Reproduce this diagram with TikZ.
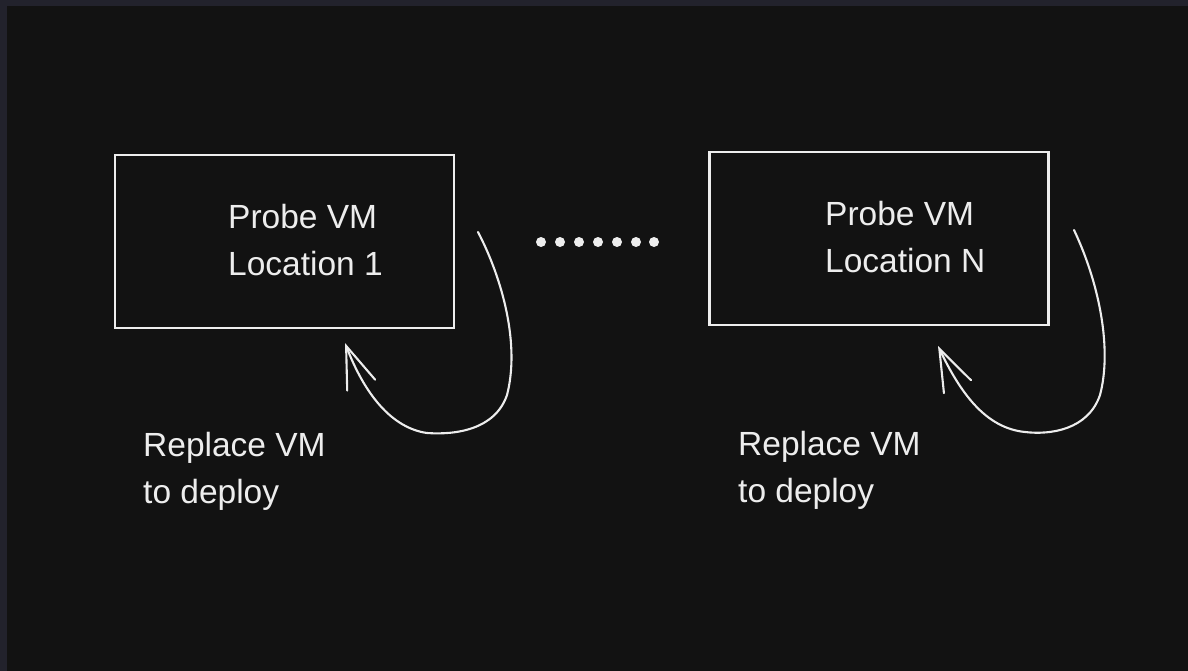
\documentclass[tikz,border=0pt]{standalone}
\usepackage{fontspec}
\setmainfont{Liberation Sans}
\usetikzlibrary{arrows.meta}
\definecolor{frame}{HTML}{22222C}
\definecolor{canvas}{HTML}{121212}
\definecolor{ink}{HTML}{EDEDED}
\tikzset{
  probebox/.style={draw=ink, line width=2.2pt, rectangle, inner sep=0pt,
    minimum width=339pt, minimum height=173pt},
  handtext/.style={text=ink, inner sep=0pt, anchor=base west, align=left,
    font=\fontsize{33.5}{47}\selectfont},
  loop/.style={draw=ink, line width=2.1pt, line cap=round, line join=round,
    -{Straight Barb[length=42pt, width=30pt, line cap=round]}},
  dot/.style={circle, fill=ink, inner sep=0pt, minimum size=10pt}
}
\begin{document}
\begin{tikzpicture}[x=1pt,y=-1pt]
  \fill[frame] (0,0) rectangle (1188,671);
  \fill[canvas] (7,6) rectangle (1188,671);
  \useasboundingbox (0,0) rectangle (1188,671);

  % boxes
  \node[probebox] (box1) at (284.5,241.5) {};
  \node[probebox] (box2) at (879,238.5) {};

  % box texts (anchor = baseline of last line)
  \node[handtext] (t1) at (228,275) {Probe VM\\Location 1};
  \node[handtext] (t2) at (825,272) {Probe VM\\Location N};

  % dots
  \foreach \x [count=\i] in {541,560,579,598,617,636,654}
    \node[dot] (d\i) at (\x,242) {};

  % loop arrows
  \coordinate (s1) at (478,232);
  \coordinate (e1) at (345,343);
  \draw[loop] (s1) .. controls (503,280) and (520,345) .. (507,395)
    .. controls (495,430) and (455,435) .. (427,433)
    .. controls (392,428) and (365,395) .. (e1);

  \coordinate (s2) at (1074,230);
  \coordinate (e2) at (938,346);
  \draw[loop] (s2) .. controls (1100,285) and (1112,350) .. (1100,395)
    .. controls (1088,430) and (1050,435) .. (1025,432)
    .. controls (985,428) and (960,392) .. (e2);

  % labels
  \node[handtext] (l1) at (143,503) {Replace VM\\to deploy};
  \node[handtext] (l2) at (738,502) {Replace VM\\to deploy};
\end{tikzpicture}
\end{document}
